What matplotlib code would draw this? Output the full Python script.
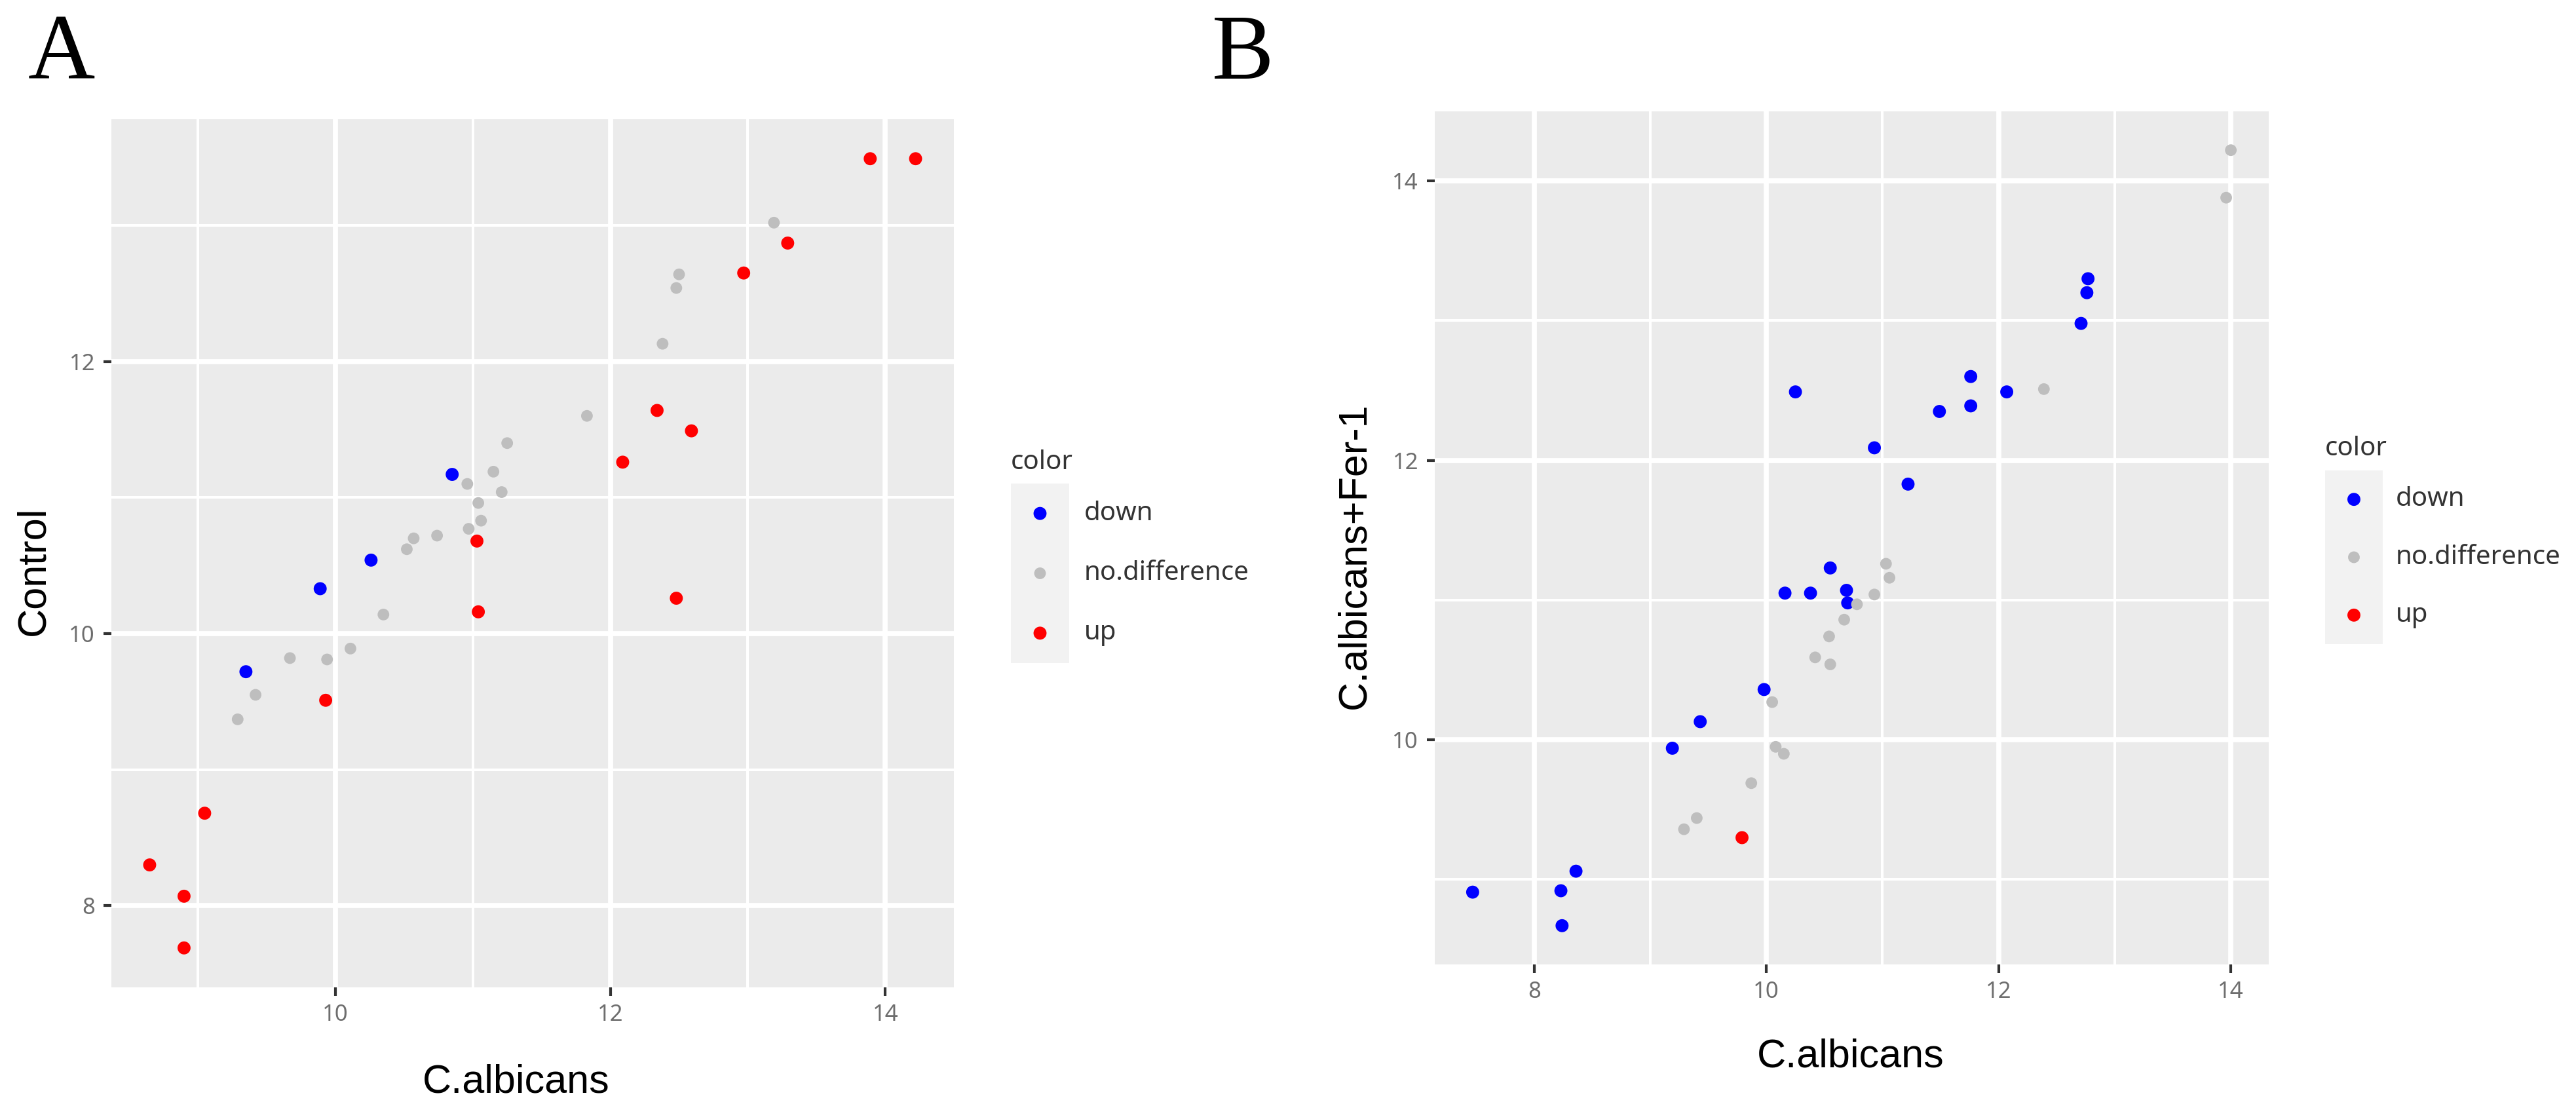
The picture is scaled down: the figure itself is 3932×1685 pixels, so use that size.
import matplotlib

matplotlib.use('Agg')
import matplotlib.pyplot as plt

W, H = 3932, 1685
DPI = 100

plt.rcParams['font.family'] = ['Noto Sans', 'DejaVu Sans']

categories = ['down', 'no.difference', 'up']
colors = ['#0000FF', '#BEBEBE', '#FF0000']
sizes = [205, 165, 205]

# panel A: C.albicans (x) vs Control (y)
a_down_x = [10.85, 10.26, 9.89, 9.35]
a_down_y = [11.17, 10.54, 10.33, 9.72]
a_nodiff_x = [13.19, 12.50, 12.48, 12.38, 11.83, 11.25, 11.15, 10.96, 11.04, 11.21, 11.06,
              10.97, 10.74, 10.57, 10.52, 10.35, 10.11, 9.94, 9.67, 9.42, 9.29]
a_nodiff_y = [13.02, 12.64, 12.54, 12.13, 11.60, 11.40, 11.19, 11.10, 10.96, 11.04, 10.83,
              10.77, 10.72, 10.70, 10.62, 10.14, 9.89, 9.81, 9.82, 9.55, 9.37]
a_up_x = [13.89, 14.22, 13.29, 12.97, 12.34, 12.59, 12.09, 11.03, 11.04, 12.48, 9.93,
          9.05, 8.65, 8.90, 8.90]
a_up_y = [13.49, 13.49, 12.87, 12.65, 11.64, 11.49, 11.26, 10.68, 10.16, 10.26, 9.51,
          8.68, 8.30, 8.07, 7.69]

# panel B: C.albicans (x) vs C.albicans+Fer-1 (y)
b_down_x = [7.47, 8.23, 8.36, 8.24, 9.19, 9.43, 9.98, 10.16, 10.38, 10.55, 10.69,
            10.70, 10.25, 10.93, 11.22, 11.49, 11.76, 11.76, 12.07, 12.71, 12.76, 12.77]
b_down_y = [8.91, 8.92, 9.06, 8.67, 9.94, 10.13, 10.36, 11.05, 11.05, 11.23, 11.07,
            10.98, 12.49, 12.09, 11.83, 12.35, 12.39, 12.60, 12.49, 12.98, 13.20, 13.30]
b_nodiff_x = [14.00, 13.96, 12.39, 11.03, 11.06, 10.93, 10.78, 10.67, 10.54, 10.42,
              10.55, 10.05, 10.08, 10.15, 9.87, 9.40, 9.29]
b_nodiff_y = [14.22, 13.88, 12.51, 11.26, 11.16, 11.04, 10.97, 10.86, 10.74, 10.59,
              10.54, 10.27, 9.95, 9.90, 9.69, 9.44, 9.36]
b_up_x = [9.79]
b_up_y = [9.30]

a_xticks = [10, 12, 14]
a_xminor = [9, 11, 13]
a_yticks = [8, 10, 12]
a_yminor = [9, 11, 13]
b_xticks = [8, 10, 12, 14]
b_xminor = [9, 11, 13]
b_yticks = [10, 12, 14]
b_yminor = [9, 11, 13]


def px_rect(l, t, r, b):
    return [l / W, 1 - b / H, (r - l) / W, (b - t) / H]


def draw_panel(fig, box, groups, xlabel, ylabel, xlab_px, ylab_px,
               xticks, xminor, yticks, yminor):
    l, t, r, b = box
    ax = fig.add_axes(px_rect(l, t, r, b))
    ax.set_facecolor('#EBEBEB')
    for (xs, ys), c, s in zip(groups, colors, sizes):
        ax.scatter(xs, ys, s=s, color=c, edgecolors='none', zorder=3)
    ax.margins(0.05)

    ax.set_xticks(xticks)
    ax.set_xticks(xminor, minor=True)
    ax.set_yticks(yticks)
    ax.set_yticks(yminor, minor=True)
    ax.grid(which='major', color='white', linewidth=5.6)
    ax.grid(which='minor', color='white', linewidth=2.9)
    ax.set_axisbelow(True)
    for sp in ax.spines.values():
        sp.set_visible(False)
    ax.tick_params(which='major', length=9, width=3, color='#333333', pad=9,
                   labelsize=25, labelcolor='#6e6e6e')
    ax.tick_params(which='minor', length=0)

    ax.set_xlabel(xlabel, family='Liberation Sans', fontsize=44, color='black')
    ax.set_ylabel(ylabel, family='Liberation Sans', fontsize=44, color='black')
    ax.xaxis.label.set_va('baseline')
    ax.xaxis.set_label_coords((xlab_px[0] - l) / (r - l), (b - xlab_px[1]) / (b - t))
    ax.yaxis.label.set_va('baseline')
    ax.yaxis.set_label_coords((ylab_px[0] - l) / (r - l), (b - ylab_px[1]) / (b - t))
    return ax


def draw_legend(fig, box, text_gap, title_gap):
    l, t, r, b = box
    ax = fig.add_axes(px_rect(l, t, r, b))
    ax.set_facecolor('#F2F2F2')
    for sp in ax.spines.values():
        sp.set_visible(False)
    ax.set_xticks([])
    ax.set_yticks([])
    ax.set_xlim(-0.5, 0.5)
    ax.set_ylim(len(categories) - 0.5, -0.5)
    for i, (cat, c, s) in enumerate(zip(categories, colors, sizes)):
        ax.scatter([0], [i], s=s, color=c, edgecolors='none')
        ax.annotate(cat, (1, i), xycoords=('axes fraction', 'data'),
                    xytext=(text_gap, 0), textcoords='offset pixels',
                    ha='left', va='center', fontsize=29, color='#333333',
                    annotation_clip=False)
    ax.annotate('color', (0, 1), xycoords='axes fraction',
                xytext=(0, title_gap), textcoords='offset pixels',
                ha='left', va='baseline', fontsize=29, color='#333333',
                annotation_clip=False)


fig = plt.figure(figsize=(W / DPI, H / DPI), dpi=DPI)

draw_panel(fig, (170, 182, 1456, 1507),
           [(a_down_x, a_down_y), (a_nodiff_x, a_nodiff_y), (a_up_x, a_up_y)],
           'C.albicans', 'Control', (788, 1668), (67, 871),
           a_xticks, a_xminor, a_yticks, a_yminor)
draw_legend(fig, (1543, 738, 1632, 1012), 23, 22)

draw_panel(fig, (2190, 170, 3463, 1472),
           [(b_down_x, b_down_y), (b_nodiff_x, b_nodiff_y), (b_up_x, b_up_y)],
           'C.albicans', 'C.albicans+Fer-1', (2825, 1628), (2083, 848),
           b_xticks, b_xminor, b_yticks, b_yminor)
draw_legend(fig, (3549, 718, 3637, 983), 20, 23)

fig.text(43 / W, 1 - 120 / H, 'A', family='Liberation Serif', fontsize=102,
         va='baseline', ha='left')
fig.text(1850 / W, 1 - 120 / H, 'B', family='Liberation Serif', fontsize=102,
         va='baseline', ha='left')

fig.savefig('out.png', dpi=DPI)
